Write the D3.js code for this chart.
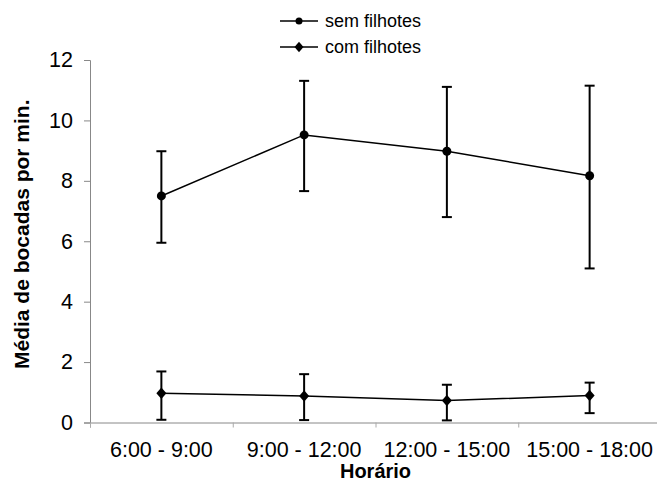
<!DOCTYPE html>
<html>
<head>
<meta charset="utf-8">
<script src="https://cdn.jsdelivr.net/npm/d3@7"></script>
<style>
	body { margin: 0; background: #fff; }
	svg { display: block; }
	.tick text { font-family: 'Liberation Sans', Arial, sans-serif; fill: #000; }
</style>
</head>
<body>
<script>
// categories and values
const horarios = ['6:00 - 9:00', '9:00 - 12:00', '12:00 - 15:00', '15:00 - 18:00'];
const semMedia = [7.5, 9.52, 8.98, 8.17];
const semSup = [8.98, 11.31, 11.11, 11.15];
const semInf = [5.95, 7.66, 6.80, 5.10];
const comMedia = [0.97, 0.88, 0.73, 0.89];
const comSup = [1.69, 1.60, 1.25, 1.32];
const comInf = [0.09, 0.08, 0.07, 0.31];
const yTicks = [0, 2, 4, 6, 8, 10, 12];
const legenda = ['sem filhotes', 'com filhotes'];

const svgSize = {width: 657, height: 484};
const plot = {left: 90, right: 661, top: 60, bottom: 422.5};

var svg = d3.select('body').append('svg')
	.attr('width', svgSize.width)
	.attr('height', svgSize.height);

var x = d3.scaleBand().domain(horarios).range([plot.left, plot.right]).padding(0);
var xEdge = d3.scaleLinear().domain([0, horarios.length]).range([plot.left, plot.right]);
var y = d3.scaleLinear().domain([0, 12]).range([plot.bottom, plot.top]);
const cx = (d) => x(d) + x.bandwidth() / 2;

// y axis
var yAxis = svg.append('g')
	.attr('transform', `translate(${plot.left},0)`)
	.call(d3.axisLeft(y).tickValues(yTicks).tickSize(6).tickPadding(11));
yAxis.select('.domain').attr('stroke', '#888');
yAxis.selectAll('.tick line').attr('stroke', '#888');
yAxis.selectAll('.tick text').style('font-size', '21.5px');

// x axis: boundary ticks and centered labels
var xTicks = svg.append('g')
	.attr('transform', `translate(0,${plot.bottom})`)
	.call(d3.axisBottom(xEdge).ticks(horarios.length).tickSize(5).tickFormat(''));
xTicks.select('.domain').attr('stroke', '#888');
xTicks.selectAll('.tick line').attr('stroke', '#aaa');

var xLabels = svg.append('g')
	.attr('transform', `translate(0,${plot.bottom})`)
	.call(d3.axisBottom(x).tickSize(0).tickPadding(19));
xLabels.select('.domain').remove();
xLabels.selectAll('.tick text').style('font-size', '21.5px');

// titles
svg.append('text')
	.attr('x', (plot.left + plot.right) / 2)
	.attr('y', 478)
	.style('text-anchor', 'middle')
	.style('font-family', 'Liberation Sans, Arial, sans-serif')
	.style('font-weight', 'bold')
	.style('font-size', '20px')
	.text('Horário');

svg.append('text')
	.attr('transform', `translate(29,${(plot.top + plot.bottom) / 2 - 7}) rotate(-90)`)
	.style('text-anchor', 'middle')
	.style('font-family', 'Liberation Sans, Arial, sans-serif')
	.style('font-weight', 'bold')
	.style('font-size', '21px')
	.text('Média de bocadas por min.');

// series
const series = [
	{nome: legenda[0], media: semMedia, sup: semSup, inf: semInf, marca: 'circle'},
	{nome: legenda[1], media: comMedia, sup: comSup, inf: comInf, marca: 'diamond'}
];

function marker(g, tipo, size) {
	if (tipo === 'circle') {
		g.append('circle').attr('r', size).attr('fill', '#000');
	} else {
		g.append('path')
			.attr('d', `M0,${-size * 1.15}L${size},0L0,${size * 1.15}L${-size},0Z`)
			.attr('fill', '#000');
	}
}

var line = d3.line()
	.x((d, i) => cx(horarios[i]))
	.y((d) => y(d));

series.forEach(function(s) {
	var g = svg.append('g');
	// error bars
	horarios.forEach(function(h, i) {
		var px = cx(h);
		g.append('line')
			.attr('x1', px).attr('x2', px)
			.attr('y1', y(s.sup[i])).attr('y2', y(s.inf[i]))
			.attr('stroke', '#000').attr('stroke-width', 2);
		[s.sup[i], s.inf[i]].forEach(function(v) {
			g.append('line')
				.attr('x1', px - 5).attr('x2', px + 5)
				.attr('y1', y(v)).attr('y2', y(v))
				.attr('stroke', '#000').attr('stroke-width', 2);
		});
	});
	g.append('path')
		.datum(s.media)
		.attr('d', line)
		.attr('fill', 'none')
		.attr('stroke', '#000')
		.attr('stroke-width', 1.5);
	s.media.forEach(function(v, i) {
		var m = g.append('g').attr('transform', `translate(${cx(horarios[i])},${y(v)})`);
		marker(m, s.marca, s.marca === 'circle' ? 4.5 : 5);
	});
});

// legend
var leg = svg.append('g');
series.forEach(function(s, i) {
	var ly = 21 + i * 26;
	var item = leg.append('g').attr('transform', `translate(280,${ly})`);
	item.append('line')
		.attr('x1', 0).attr('x2', 38)
		.attr('stroke', '#000').attr('stroke-width', 1.5);
	var m = item.append('g').attr('transform', 'translate(19,0)');
	marker(m, s.marca, s.marca === 'circle' ? 3.5 : 4.5);
	item.append('text')
		.attr('x', 45)
		.attr('dy', '0.35em')
		.style('font-family', 'Liberation Sans, Arial, sans-serif')
		.style('font-size', '18px')
		.text(s.nome);
});
</script>
</body>
</html>
